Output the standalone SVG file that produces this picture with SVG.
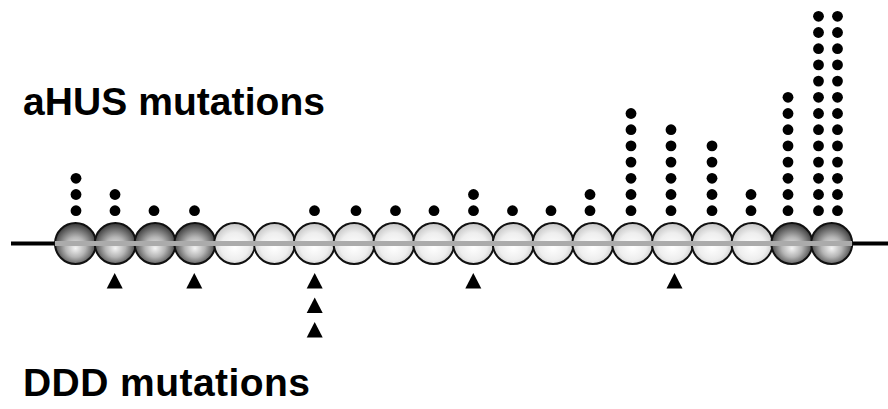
<svg xmlns="http://www.w3.org/2000/svg" xmlns:xlink="http://www.w3.org/1999/xlink" width="888" height="409" viewBox="0 0 888 409">
<style>
.lbl{font-family:"Liberation Sans",Arial,sans-serif;font-weight:bold;font-size:39px;fill:#000}
.dk{fill:url(#gDark);stroke:#111;stroke-width:2}
.lt{fill:url(#gLight);stroke:#111;stroke-width:2}
.dot{fill:#000}
.tri{fill:#000}
.axis{stroke:#000;stroke-width:4;fill:none}
.core{stroke:#ababab;stroke-width:5;fill:none}
</style>
<defs>
<radialGradient id="gDark" cx="0.5" cy="0.55" r="0.55" fx="0.5" fy="0.62">
<stop offset="0" stop-color="#f4f4f4"/>
<stop offset="0.45" stop-color="#b4b4b4"/>
<stop offset="0.8" stop-color="#646464"/>
<stop offset="1" stop-color="#343434"/>
</radialGradient>
<radialGradient id="gLight" cx="0.5" cy="0.55" r="0.55" fx="0.5" fy="0.6">
<stop offset="0" stop-color="#ffffff"/>
<stop offset="0.6" stop-color="#eeeeee"/>
<stop offset="1" stop-color="#c4c4c4"/>
</radialGradient>
<circle id="d" r="5.4"/>
<path id="t" d="M0,0 L8,15.5 L-8,15.5 Z"/>
</defs>
<rect width="888" height="409" fill="#fff"/>
<text class="lbl" x="23" y="115" textLength="302">aHUS mutations</text>
<text class="lbl" x="23" y="396" textLength="287">DDD mutations</text>
<g id="connectors">
<line class="axis" x1="11" y1="243.5" x2="60" y2="243.5"/>
<line class="axis" x1="845" y1="243.5" x2="888" y2="243.5"/>
</g>
<g id="domains">
<g id="scr1"><circle class="dk" cx="75.5" cy="243.5" r="20.5"/></g>
<g id="scr2"><circle class="dk" cx="115.3" cy="243.5" r="20.5"/></g>
<g id="scr3"><circle class="dk" cx="155.1" cy="243.5" r="20.5"/></g>
<g id="scr4"><circle class="dk" cx="194.9" cy="243.5" r="20.5"/></g>
<g id="scr5"><circle class="lt" cx="234.7" cy="243.5" r="20.5"/></g>
<g id="scr6"><circle class="lt" cx="274.5" cy="243.5" r="20.5"/></g>
<g id="scr7"><circle class="lt" cx="314.3" cy="243.5" r="20.5"/></g>
<g id="scr8"><circle class="lt" cx="354.1" cy="243.5" r="20.5"/></g>
<g id="scr9"><circle class="lt" cx="393.9" cy="243.5" r="20.5"/></g>
<g id="scr10"><circle class="lt" cx="433.7" cy="243.5" r="20.5"/></g>
<g id="scr11"><circle class="lt" cx="473.5" cy="243.5" r="20.5"/></g>
<g id="scr12"><circle class="lt" cx="513.3" cy="243.5" r="20.5"/></g>
<g id="scr13"><circle class="lt" cx="553.1" cy="243.5" r="20.5"/></g>
<g id="scr14"><circle class="lt" cx="592.9" cy="243.5" r="20.5"/></g>
<g id="scr15"><circle class="lt" cx="632.7" cy="243.5" r="20.5"/></g>
<g id="scr16"><circle class="lt" cx="672.5" cy="243.5" r="20.5"/></g>
<g id="scr17"><circle class="lt" cx="712.3" cy="243.5" r="20.5"/></g>
<g id="scr18"><circle class="lt" cx="752.1" cy="243.5" r="20.5"/></g>
<g id="scr19"><circle class="dk" cx="791.9" cy="243.5" r="20.5"/></g>
<g id="scr20"><circle class="dk" cx="831.7" cy="243.5" r="20.5"/></g>
</g>
<g id="core-line">
<line class="core" x1="55" y1="243.5" x2="852" y2="243.5"/>
</g>
<g id="ahus-dots" class="dot">
<g id="col1"><use xlink:href="#d" x="76" y="210.7"/><use xlink:href="#d" x="76" y="194.5"/><use xlink:href="#d" x="76" y="178.3"/></g>
<g id="col2"><use xlink:href="#d" x="115" y="210.7"/><use xlink:href="#d" x="115" y="194.5"/></g>
<g id="col3"><use xlink:href="#d" x="154" y="210.7"/></g>
<g id="col4"><use xlink:href="#d" x="194.5" y="210.7"/></g>
<g id="col7"><use xlink:href="#d" x="314.5" y="210.7"/></g>
<g id="col8"><use xlink:href="#d" x="356" y="210.7"/></g>
<g id="col9"><use xlink:href="#d" x="395.5" y="210.7"/></g>
<g id="col10"><use xlink:href="#d" x="434" y="210.7"/></g>
<g id="col11"><use xlink:href="#d" x="473.5" y="210.7"/><use xlink:href="#d" x="473.5" y="194.5"/></g>
<g id="col12"><use xlink:href="#d" x="512.5" y="210.7"/></g>
<g id="col13"><use xlink:href="#d" x="551" y="210.7"/></g>
<g id="col14"><use xlink:href="#d" x="590" y="210.7"/><use xlink:href="#d" x="590" y="194.5"/></g>
<g id="col15"><use xlink:href="#d" x="631" y="210.7"/><use xlink:href="#d" x="631" y="194.5"/><use xlink:href="#d" x="631" y="178.3"/><use xlink:href="#d" x="631" y="162.1"/><use xlink:href="#d" x="631" y="145.9"/><use xlink:href="#d" x="631" y="129.7"/><use xlink:href="#d" x="631" y="113.5"/></g>
<g id="col16"><use xlink:href="#d" x="671" y="210.7"/><use xlink:href="#d" x="671" y="194.5"/><use xlink:href="#d" x="671" y="178.3"/><use xlink:href="#d" x="671" y="162.1"/><use xlink:href="#d" x="671" y="145.9"/><use xlink:href="#d" x="671" y="129.7"/></g>
<g id="col17"><use xlink:href="#d" x="712" y="210.7"/><use xlink:href="#d" x="712" y="194.5"/><use xlink:href="#d" x="712" y="178.3"/><use xlink:href="#d" x="712" y="162.1"/><use xlink:href="#d" x="712" y="145.9"/></g>
<g id="col18"><use xlink:href="#d" x="751" y="210.7"/><use xlink:href="#d" x="751" y="194.5"/></g>
<g id="col19"><use xlink:href="#d" x="788" y="210.7"/><use xlink:href="#d" x="788" y="194.5"/><use xlink:href="#d" x="788" y="178.3"/><use xlink:href="#d" x="788" y="162.1"/><use xlink:href="#d" x="788" y="145.9"/><use xlink:href="#d" x="788" y="129.7"/><use xlink:href="#d" x="788" y="113.5"/><use xlink:href="#d" x="788" y="97.3"/></g>
<g id="col20a"><use xlink:href="#d" x="818.5" y="210.7"/><use xlink:href="#d" x="818.5" y="194.5"/><use xlink:href="#d" x="818.5" y="178.3"/><use xlink:href="#d" x="818.5" y="162.1"/><use xlink:href="#d" x="818.5" y="145.9"/><use xlink:href="#d" x="818.5" y="129.7"/><use xlink:href="#d" x="818.5" y="113.5"/><use xlink:href="#d" x="818.5" y="97.3"/><use xlink:href="#d" x="818.5" y="81.1"/><use xlink:href="#d" x="818.5" y="64.9"/><use xlink:href="#d" x="818.5" y="48.7"/><use xlink:href="#d" x="818.5" y="32.5"/><use xlink:href="#d" x="818.5" y="16.3"/></g>
<g id="col20b"><use xlink:href="#d" x="837.5" y="210.7"/><use xlink:href="#d" x="837.5" y="194.5"/><use xlink:href="#d" x="837.5" y="178.3"/><use xlink:href="#d" x="837.5" y="162.1"/><use xlink:href="#d" x="837.5" y="145.9"/><use xlink:href="#d" x="837.5" y="129.7"/><use xlink:href="#d" x="837.5" y="113.5"/><use xlink:href="#d" x="837.5" y="97.3"/><use xlink:href="#d" x="837.5" y="81.1"/><use xlink:href="#d" x="837.5" y="64.9"/><use xlink:href="#d" x="837.5" y="48.7"/><use xlink:href="#d" x="837.5" y="32.5"/><use xlink:href="#d" x="837.5" y="16.3"/></g>
</g>
<g id="ddd-marks" class="tri">
<g id="tri2"><use xlink:href="#t" x="114.7" y="273"/></g>
<g id="tri4"><use xlink:href="#t" x="194.3" y="273"/></g>
<g id="tri7"><use xlink:href="#t" x="314.7" y="273"/><use xlink:href="#t" x="314.7" y="297.5"/><use xlink:href="#t" x="314.7" y="322"/></g>
<g id="tri11"><use xlink:href="#t" x="473.3" y="273"/></g>
<g id="tri16"><use xlink:href="#t" x="674.5" y="273"/></g>
</g>
</svg>
